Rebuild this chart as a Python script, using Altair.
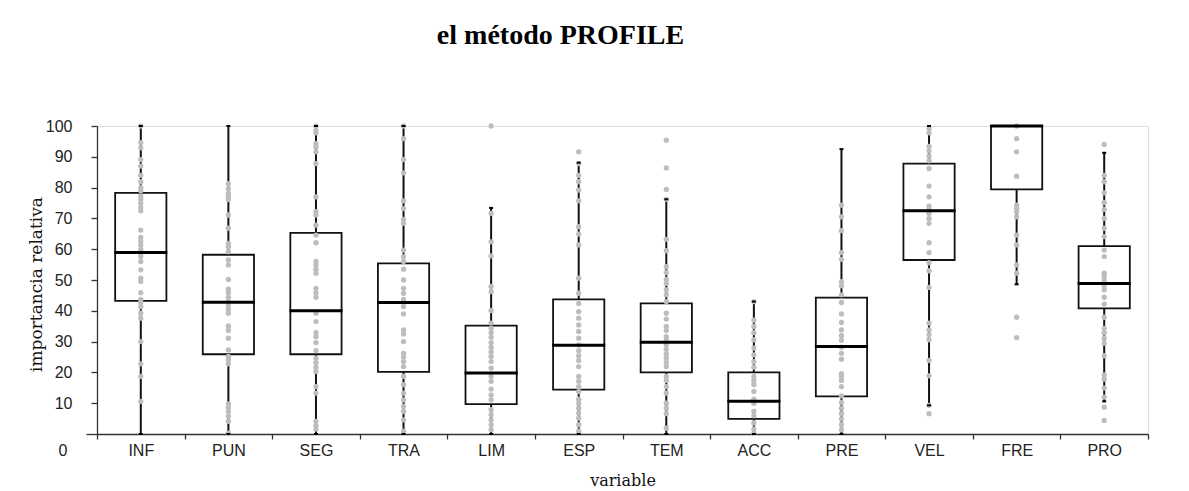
import altair as alt
import pandas as pd

variables = ["INF", "PUN", "SEG", "TRA", "LIM", "ESP", "TEM", "ACC", "PRE", "VEL", "FRE", "PRO"]

whisker_low = [0, 0, 0, 0, 0, 0, 0, 0, 0, 9.3, 48.6, 10.6]
q1 = [43.2, 25.9, 25.9, 20.2, 9.7, 14.4, 20.0, 4.9, 12.2, 56.5, 79.4, 40.8]
median = [58.9, 42.8, 40.0, 42.7, 19.8, 28.8, 29.8, 10.6, 28.4, 72.5, 100, 48.9]
q3 = [78.3, 58.2, 65.3, 55.4, 35.2, 43.7, 42.4, 20.0, 44.3, 87.8, 100, 61.0]
whisker_high = [100, 100, 100, 100, 73.4, 88.1, 76.2, 43.0, 92.5, 100, 100, 91.3]

pts_INF = [100, 94.6, 92.9, 89.1, 87.0, 84.0, 81.9, 80.0, 79.0, 77.2, 76.1, 74.9, 73.6, 72.5,
           66.2, 63.8, 62.6, 61.4, 59.9, 58.7, 57.6, 56.0, 53.3, 50.6, 49.5, 45.9, 43.7, 42.7,
           41.4, 39.2, 37.6, 30.0, 22.8, 18.7, 10.6]
pts_PUN = [81.3, 79.7, 78.1, 77.2, 76.1, 71.1, 66.8, 61.9, 60.8, 59.2, 56.5, 54.9, 50.2, 47.0,
           45.9, 44.4, 43.0, 41.9, 40.5, 39.2, 35.1, 33.6, 31.1, 27.3, 25.2, 24.1, 22.8, 9.8,
           8.6, 7.3, 5.7, 4.1, 0.3]
pts_SEG = [100, 98.6, 97.8, 94.3, 93.2, 91.6, 87.8, 77.0, 72.2, 71.1, 67.8, 64.6, 62.1, 56.0,
           54.9, 53.5, 52.2, 47.3, 45.9, 44.4, 39.2, 36.5, 32.9, 31.6, 29.7, 27.1, 24.6, 23.2,
           21.7, 20.3, 15.4, 13.3, 4.1, 2.7, 1.6]
pts_TRA = [100, 95.9, 89.1, 84.8, 75.7, 73.2, 69.7, 68.4, 59.7, 57.6, 56.0, 53.5, 50.0, 47.3,
           45.7, 43.7, 41.4, 39.0, 33.8, 32.5, 30.0, 26.2, 25.0, 23.5, 21.9, 18.7, 16.0, 13.3,
           11.1, 9.0, 7.3, 4.6, 0.9]
pts_LIM = [100, 71.6, 62.4, 57.8, 47.9, 46.2, 40.1, 36.0, 34.3, 32.9, 31.4, 29.7, 28.2, 26.7,
           25.2, 23.5, 21.4, 18.7, 17.1, 14.6, 12.7, 11.1, 7.9, 6.3, 4.6, 3.0, 1.4]
pts_ESP = [91.6, 87.8, 84.0, 81.9, 79.2, 75.7, 67.3, 64.9, 61.4, 50.6, 45.7, 42.4, 39.7, 37.6,
           35.4, 33.3, 31.1, 28.9, 27.1, 25.4, 23.9, 21.9, 18.7, 17.1, 15.4, 13.8, 11.3, 10.0,
           8.4, 6.8, 5.2, 3.0, 0.9]
pts_TEM = [95.4, 86.4, 79.4, 76.2, 63.2, 59.5, 54.3, 52.4, 50.2, 48.9, 46.8, 45.2, 43.0, 39.2,
           37.3, 34.9, 33.6, 31.6, 30.6, 28.9, 27.5, 26.0, 24.6, 23.2, 21.9, 18.7, 17.4, 15.4,
           13.3, 10.0, 8.4, 6.6, 1.9]
pts_ACC = [43.0, 37.0, 34.9, 32.9, 30.6, 27.9, 25.7, 23.5, 21.7, 18.7, 17.4, 16.0, 13.8, 11.3,
           10.0, 7.3, 5.9, 3.6, 1.6, 0.3]
pts_PRE = [74.3, 70.5, 66.0, 58.9, 56.7, 49.5, 48.1, 45.2, 42.7, 39.0, 36.2, 33.8, 31.9, 30.4,
           28.2, 26.2, 24.3, 19.6, 18.7, 17.4, 15.4, 12.4, 10.3, 8.4, 6.6, 4.9, 3.0, 1.4]
pts_VEL = [99.2, 97.8, 93.4, 91.9, 90.2, 88.7, 86.2, 80.5, 77.0, 74.0, 72.9, 71.6, 70.0, 68.4,
           62.1, 58.9, 55.6, 53.0, 47.6, 36.0, 33.8, 32.2, 30.6, 23.9, 18.9, 9.3, 6.6]
pts_FRE = [100, 95.9, 91.6, 83.7, 74.3, 73.2, 72.2, 70.5, 64.6, 61.4, 54.9, 52.2, 37.9, 31.3]
pts_PRO = [94.0, 84.0, 81.9, 78.3, 75.1, 72.9, 70.0, 66.8, 64.1, 59.7, 57.6, 52.2, 51.1, 49.8,
           48.1, 46.8, 44.4, 42.2, 37.9, 34.3, 32.9, 31.1, 29.5, 25.4, 19.2, 17.8, 14.9, 12.0,
           8.7, 4.4]

points_by_var = {
    "INF": pts_INF, "PUN": pts_PUN, "SEG": pts_SEG, "TRA": pts_TRA, "LIM": pts_LIM,
    "ESP": pts_ESP, "TEM": pts_TEM, "ACC": pts_ACC, "PRE": pts_PRE, "VEL": pts_VEL,
    "FRE": pts_FRE, "PRO": pts_PRO,
}

stats = pd.DataFrame({
    "variable": variables,
    "lo": whisker_low,
    "q1": q1,
    "median": median,
    "q3": q3,
    "hi": whisker_high,
})
points = pd.DataFrame(
    [{"variable": v, "value": val} for v in variables for val in points_by_var[v]]
)

label_font = "Liberation Sans"
serif = "DejaVu Serif"

x_enc = alt.X(
    "variable:N",
    sort=variables,
    scale=alt.Scale(paddingInner=0, paddingOuter=0),
    axis=alt.Axis(
        title="variable",
        titleFont=serif,
        titleFontSize=16,
        titleFontWeight="normal",
        titleColor="#111",
        titleBaseline="middle",
        titleY=46,
        labelFont=label_font,
        labelFontSize=16,
        labelColor="#222",
        labelAngle=0,
        labelBaseline="middle",
        labelPadding=11,
        tickBand="extent",
        tickSize=5,
        tickColor="#333",
        domainColor="#333",
        domainWidth=1.3,
        tickWidth=1.3,
    ),
)

y_axis = alt.Axis(
    title="importancia relativa",
    titleFont=serif,
    titleFontSize=17,
    titleFontWeight="normal",
    titleColor="#111",
    titleX=-61,
    titleY=158,
    titleAlign="center",
    titleBaseline="middle",
    values=list(range(0, 101, 10)),
    labelFont=label_font,
    labelFontSize=16,
    labelColor="#222",
    labelPadding=19,
    labelOffset={"condition": {"test": "datum.value == 0", "value": 16}, "value": 0},
    tickSize={"condition": {"test": "datum.value == 0", "value": 11}, "value": 6},
    tickColor="#333",
    domainColor="#333",
    domainWidth=1.3,
    tickWidth=1.3,
    grid=False,
)
y_scale = alt.Scale(domain=[0, 100], nice=False, zero=True)

whiskers = alt.Chart(stats).mark_rule(color="#111", strokeWidth=2).encode(
    x=x_enc,
    y=alt.Y("lo:Q", scale=y_scale, axis=y_axis),
    y2="hi:Q",
)

boxes = alt.Chart(stats).mark_bar(
    width=alt.RelativeBandSize(0.585), fill="white", stroke="#111", strokeWidth=1.8
).encode(
    x=x_enc,
    y=alt.Y("q1:Q", scale=y_scale, axis=y_axis),
    y2="q3:Q",
)

dots = alt.Chart(points).mark_circle(size=28, color="#bdbdbd", opacity=1).encode(
    x=x_enc,
    y=alt.Y("value:Q", scale=y_scale, axis=y_axis),
)

medians = alt.Chart(stats).mark_tick(size=53, thickness=3, color="#000", opacity=1).encode(
    x=x_enc,
    y=alt.Y("median:Q", scale=y_scale, axis=y_axis),
)

caps_hi = alt.Chart(stats).mark_tick(size=4, thickness=2, color="#000", opacity=1).encode(
    x=x_enc,
    y=alt.Y("hi:Q", scale=y_scale, axis=y_axis),
)
caps_lo = alt.Chart(stats).mark_tick(size=4, thickness=2, color="#000", opacity=1).encode(
    x=x_enc,
    y=alt.Y("lo:Q", scale=y_scale, axis=y_axis),
)

chart = alt.layer(whiskers, boxes, dots, medians, caps_hi, caps_lo).properties(
    width=1051,
    height=308,
    autosize=alt.AutoSizeParams(type="none"),
    padding={"left": 89, "top": 118, "right": 20, "bottom": 57},
    title=alt.TitleParams(
        "el método PROFILE",
        font="Liberation Serif",
        fontSize=28,
        fontWeight="bold",
        color="#000",
        anchor="middle",
        offset=68,
        dx=-62,
    ),
).configure_view(stroke=None).configure(background="white")

chart.save("out.html", embed_options={"renderer": "svg", "actions": False})
